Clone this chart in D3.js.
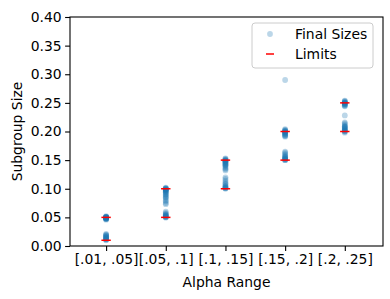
<!DOCTYPE html>
<html><head><meta charset="utf-8">
<script src="https://cdn.jsdelivr.net/npm/d3@7"></script>
<style>body{margin:0;background:#fff}svg{display:block}text{font-family:"DejaVu Sans",sans-serif;fill:#000}</style>
</head><body><svg id="c" width="390" height="299"></svg>
<script>
const categories = ["[.01, .05]", "[.05, .1]", "[.1, .15]", "[.15, .2]", "[.2, .25]"];
const lowerLimits = [0.01, 0.05, 0.10, 0.15, 0.20];
const upperLimits = [0.05, 0.10, 0.15, 0.20, 0.25];
const finalSizes0 = [0.050,0.049,0.051,0.048,0.050,0.047,0.052,0.049,0.050,0.046,0.051,0.048,0.050,0.049,0.047,0.051,0.050,0.049,
  0.012,0.015,0.018,0.020,0.013,0.016,0.011,0.019,0.014,0.017,0.021,0.010,0.012,0.015];
const finalSizes1 = [0.100,0.101,0.099,0.098,0.102,0.097,0.100,0.096,0.095,0.099,0.094,0.093,0.091,0.090,0.088,0.086,0.085,0.083,0.080,0.078,0.075,0.073,0.100,0.098,
  0.050,0.051,0.052,0.053,0.054,0.055,0.056,0.058,0.060,0.051,0.053,0.050];
const finalSizes2 = [0.150,0.151,0.152,0.149,0.148,0.147,0.146,0.153,0.145,0.144,0.143,0.142,0.141,0.140,0.138,0.136,0.134,0.132,0.150,0.148,
  0.100,0.101,0.102,0.103,0.104,0.105,0.107,0.109,0.111,0.114,0.117,0.120,0.101];
const finalSizes3 = [0.290,0.200,0.201,0.199,0.198,0.202,0.197,0.196,0.195,0.194,0.193,0.192,0.191,0.203,0.200,0.204,0.199,
  0.150,0.151,0.152,0.153,0.154,0.155,0.156,0.157,0.159,0.161,0.163,0.165,0.152,0.150];
const finalSizes4 = [0.250,0.251,0.252,0.249,0.248,0.247,0.246,0.245,0.244,0.253,0.254,0.250,0.248,0.251,0.228,
  0.200,0.201,0.202,0.203,0.204,0.205,0.206,0.207,0.208,0.209,0.210,0.212,0.214,0.216,0.198,0.200];
const finalSizes = [finalSizes0, finalSizes1, finalSizes2, finalSizes3, finalSizes4];
const yTicks = [0,0.05,0.10,0.15,0.20,0.25,0.30,0.35,0.40];

const L=70, R=383, T=17, B=246;
const svg = d3.select("#c");
const x = d3.scaleLinear().domain([-0.605, 4.64]).range([L, R]);
const y = d3.scaleLinear().domain([0, 0.40]).range([B, T]);
const FS = 13.9;
const blue = "#1f77b4";

// points
const pts = [];
finalSizes.forEach((arr,i)=>arr.forEach(v=>pts.push({i,v})));
svg.append("g").selectAll("circle").data(pts).join("circle")
  .attr("cx", d=>x(d.i)).attr("cy", d=>y(d.v)).attr("r", 2.9)
  .attr("fill", blue).attr("fill-opacity", 0.3);

// limits
const lims = [];
categories.forEach((c,i)=>{lims.push({i,v:lowerLimits[i]});lims.push({i,v:upperLimits[i]});});
svg.append("g").selectAll("line").data(lims).join("line")
  .attr("x1", d=>x(d.i)-4.7).attr("x2", d=>x(d.i)+4.7)
  .attr("y1", d=>y(d.v)).attr("y2", d=>y(d.v))
  .attr("stroke", "red").attr("stroke-width", 1.5);

// axes
const xAxis = d3.axisBottom(x).tickValues(d3.range(categories.length)).tickFormat(i=>categories[i]).tickSize(4.9).tickPadding(3.5);
const gx = svg.append("g").attr("transform", `translate(0,${B})`).call(xAxis);
const yAxis = d3.axisLeft(y).tickValues(yTicks).tickFormat(d3.format(".2f")).tickSize(4.9).tickPadding(3.5);
const gy = svg.append("g").attr("transform", `translate(${L},0)`).call(yAxis);
[gx,gy].forEach(g=>{
  g.select(".domain").remove();
  g.selectAll(".tick line").attr("stroke","#000").attr("stroke-width",1.1);
  g.selectAll(".tick text").style("font-size", FS+"px").style("font-family","DejaVu Sans").attr("fill","#000");
});
// frame
svg.append("rect").attr("x",L).attr("y",T).attr("width",R-L).attr("height",B-T)
  .attr("fill","none").attr("stroke","#000").attr("stroke-width",1.1);

// labels
svg.append("text").attr("x",(L+R)/2).attr("y",287).attr("text-anchor","middle").style("font-size",FS+"px").text("Alpha Range");
svg.append("text").attr("transform",`translate(22,${(T+B)/2}) rotate(-90)`).attr("text-anchor","middle").style("font-size",FS+"px").text("Subgroup Size");

// legend
const lg = svg.append("g");
lg.append("rect").attr("x",252).attr("y",23).attr("width",121).attr("height",45).attr("rx",3)
  .attr("fill","#fff").attr("fill-opacity",0.8).attr("stroke","#cccccc").attr("stroke-width",1);
lg.append("circle").attr("cx",270).attr("cy",34).attr("r",2.9).attr("fill",blue).attr("fill-opacity",0.3);
lg.append("text").attr("x",295).attr("y",34).attr("dy","0.35em").style("font-size",FS+"px").text("Final Sizes");
lg.append("line").attr("x1",266).attr("x2",274).attr("y1",54).attr("y2",54).attr("stroke","red").attr("stroke-width",1.5);
lg.append("text").attr("x",295).attr("y",54).attr("dy","0.35em").style("font-size",FS+"px").text("Limits");
</script></body></html>
